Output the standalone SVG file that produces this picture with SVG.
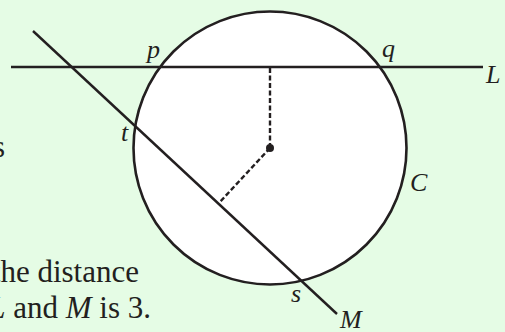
<svg xmlns="http://www.w3.org/2000/svg" width="505" height="332" viewBox="0 0 505 332">
<style>
.ln{stroke:#231f20;stroke-width:2.4;fill:none}
.dash{stroke:#231f20;stroke-width:2.4;fill:none;stroke-dasharray:5 2.5}
.lbl{font-family:"Liberation Serif",serif;font-style:italic;font-size:26px;fill:#231f20}
.body{font-family:"Liberation Serif",serif;font-size:31px;fill:#231f20}
.it{font-style:italic}
</style>
<rect x="0" y="0" width="505" height="332" fill="#e5fce5"/>
<g id="circle-C">
<circle cx="270" cy="148" r="136.5" fill="#ffffff" stroke="#231f20" stroke-width="2.6"/>
<circle cx="270" cy="148" r="4" fill="#231f20"/>
</g>
<g id="connectors">
<line class="ln" x1="11" y1="67" x2="483" y2="67"/>
<line class="ln" x1="33" y1="31" x2="337" y2="314"/>
<line class="dash" x1="270" y1="148" x2="270" y2="67"/>
<line class="dash" x1="270" y1="148" x2="219" y2="203"/>
</g>
<g id="labels">
<text class="lbl" x="147" y="58">p</text>
<text class="lbl" x="382" y="57">q</text>
<text class="lbl" x="486" y="83">L</text>
<text class="lbl" x="121" y="141">t</text>
<text class="lbl" x="410" y="191">C</text>
<text class="lbl" x="291" y="302">s</text>
<text class="lbl" x="340" y="328">M</text>
</g>
<g id="body-text">
<text class="body" x="5" y="157" text-anchor="end">s</text>
<text class="body" x="139" y="282" text-anchor="end">the distance</text>
<text class="body" x="151" y="318" text-anchor="end"><tspan class="it">L</tspan> and <tspan class="it">M</tspan> is 3.</text>
</g>
</svg>
